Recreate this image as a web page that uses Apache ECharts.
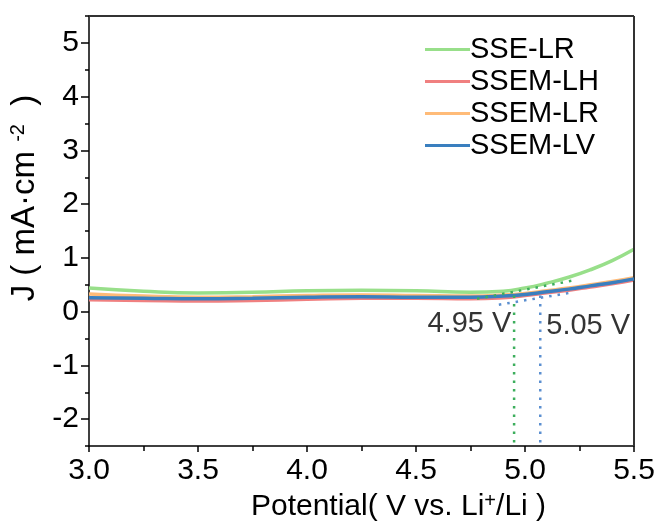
<!DOCTYPE html>
<html><head><meta charset="utf-8">
<script src="https://cdn.jsdelivr.net/npm/echarts@6/dist/echarts.min.js"></script>
<style>html,body{margin:0;padding:0;background:#fff}#c{width:668px;height:527px}</style>
</head><body><div id="c"></div>
<script>
// Data
const potential = [3.0, 3.25, 3.5, 3.75, 4.0, 4.25, 4.5, 4.75, 4.9, 5.0, 5.1, 5.2, 5.3, 5.4, 5.5];
const sseLR   = [0.44, 0.38, 0.35, 0.36, 0.39, 0.40, 0.39, 0.36, 0.38, 0.44, 0.53, 0.64, 0.78, 0.95, 1.16];
const ssemLH  = [0.22, 0.21, 0.20, 0.21, 0.23, 0.25, 0.25, 0.24, 0.26, 0.30, 0.35, 0.40, 0.46, 0.52, 0.59];
const ssemLR  = [0.33, 0.29, 0.27, 0.28, 0.30, 0.31, 0.30, 0.29, 0.31, 0.34, 0.39, 0.44, 0.50, 0.56, 0.63];
const ssemLV  = [0.26, 0.25, 0.24, 0.25, 0.27, 0.28, 0.27, 0.27, 0.29, 0.32, 0.37, 0.42, 0.48, 0.54, 0.61];
const seriesNames = ['SSE-LR', 'SSEM-LH', 'SSEM-LR', 'SSEM-LV'];
const seriesColors = ['#98df8a', '#f08080', '#ffbb78', '#3a7fbf'];
// tangent / onset construction lines
const greenTangent = [[4.78, 0.24], [5.22, 0.58]];
const greenOnset   = [[4.95, 0.30], [4.95, -2.45]];
const blueTangent  = [[4.88, 0.13], [5.22, 0.36]];
const blueOnset    = [[5.07, 0.30], [5.07, -2.5]];
const onsetLabels  = [{ name: '4.95 V', value: [4.745, -0.22] }, { name: '5.05 V', value: [5.29, -0.27] }];
const xRange = [3.0, 5.5];
const yRange = [-2.5, 5.5];
const yTicks = [-2, -1, 0, 1, 2, 3, 4, 5];
const yMinorTicks = [-2.5, -1.5, -0.5, 0.5, 1.5, 2.5, 3.5, 4.5, 5.5];

const FONT = 'Liberation Sans, Arial, Helvetica, sans-serif';
const zip = (xs, ys) => xs.map((x, i) => [x, ys[i]]);
const curves = [sseLR, ssemLH, ssemLR, ssemLV];

const chart = echarts.init(document.getElementById('c'));
const axisTxt = { color: '#000', fontSize: 30, fontFamily: FONT };
const supStyle = { fontSize: 20, verticalAlign: 'top', padding: [0, 0, 12, 0], color: '#000', fontFamily: FONT };
chart.setOption({
  animation: false,
  backgroundColor: '#fff',
  textStyle: { fontFamily: FONT },
  grid: { left: 89, right: 34, top: 16, bottom: 74, containLabel: false },
  legend: {
    data: seriesNames,
    left: 420, top: 30, orient: 'vertical',
    itemWidth: 45, itemHeight: 14, itemGap: 3,
    textStyle: { color: '#000', fontSize: 29, fontFamily: FONT, padding: [0, 0, 0, -5] },
    icon: 'path://M0,5.5 L45,5.5 L45,8.5 L0,8.5 Z'
  },
  xAxis: [{
    type: 'value', min: xRange[0], max: xRange[1], interval: 0.5, position: 'bottom',
    axisLine: { onZero: false, lineStyle: { color: '#000', width: 1.5 } },
    axisTick: { inside: false, length: 6, lineStyle: { color: '#000', width: 1.5 } },
    minorTick: { show: true, splitNumber: 2, length: 5, lineStyle: { color: '#000', width: 1.5 } },
    splitLine: { show: false },
    axisLabel: Object.assign({ margin: 10, formatter: v => v.toFixed(1) }, axisTxt),
    name: 'Potential( V vs. Li{sup|+}/Li )',
    nameLocation: 'middle', nameGap: 36,
    nameTextStyle: Object.assign({ padding: [0, 0, 0, 74], rich: { sup: supStyle } }, axisTxt)
  }],
  yAxis: [{
    type: 'value', min: yRange[0], max: yRange[1], position: 'left',
    axisLine: { onZero: false, lineStyle: { color: '#000', width: 1.5 } },
    axisTick: { inside: false, length: 8, customValues: yTicks, lineStyle: { color: '#000', width: 1.5 } },
    splitLine: { show: false },
    axisLabel: Object.assign({ margin: 10, customValues: yTicks }, axisTxt),
    name: 'J ( mA·cm {sup|-2}  )',
    nameLocation: 'middle', nameGap: 46, nameRotate: 90,
    nameTextStyle: Object.assign({ padding: [0, 0, 0, 66], rich: { sup: supStyle } }, axisTxt, { fontSize: 33 })
  }, {
    type: 'value', min: yRange[0], max: yRange[1], position: 'left',
    axisLine: { show: false, onZero: false },
    axisTick: { inside: false, length: 4, customValues: yMinorTicks, lineStyle: { color: '#000', width: 1.5 } },
    axisLabel: { show: false }, splitLine: { show: false }
  }],
  series: [
    ...curves.map((ys, i) => ({
      name: seriesNames[i], type: 'line', data: zip(potential, ys), smooth: true,
      symbol: 'none', lineStyle: { color: seriesColors[i], width: 3.5 }, itemStyle: { color: seriesColors[i] }, z: 2 + i,
      markLine: i === 0 ? {
        silent: true, symbol: 'none', animation: false, label: { show: false },
        lineStyle: { color: '#333', width: 2, type: 'solid' },
        data: [{ yAxis: yRange[1] }, { xAxis: xRange[1] }]
      } : undefined
    })),
    { name: 'gt', type: 'line', data: greenTangent, symbol: 'none', lineStyle: { color: '#3cae5c', width: 2.5, type: [2.5, 6] }, z: 10 },
    { name: 'go', type: 'line', data: greenOnset, symbol: 'none', lineStyle: { color: '#3cae5c', width: 2.5, type: [2.5, 6] }, z: 10 },
    { name: 'bt', type: 'line', data: blueTangent, symbol: 'none', lineStyle: { color: '#5b8fd0', width: 2.5, type: [2.5, 6] }, z: 10 },
    { name: 'bo', type: 'line', data: blueOnset, symbol: 'none', lineStyle: { color: '#5b8fd0', width: 2.5, type: [2.5, 6] }, z: 10 },
    { name: 'labels', type: 'scatter', data: onsetLabels, symbolSize: 0, z: 12,
      label: { show: true, position: 'inside', formatter: p => p.name, color: '#000', fontSize: 29, fontFamily: FONT } }
  ]
});
</script></body></html>
